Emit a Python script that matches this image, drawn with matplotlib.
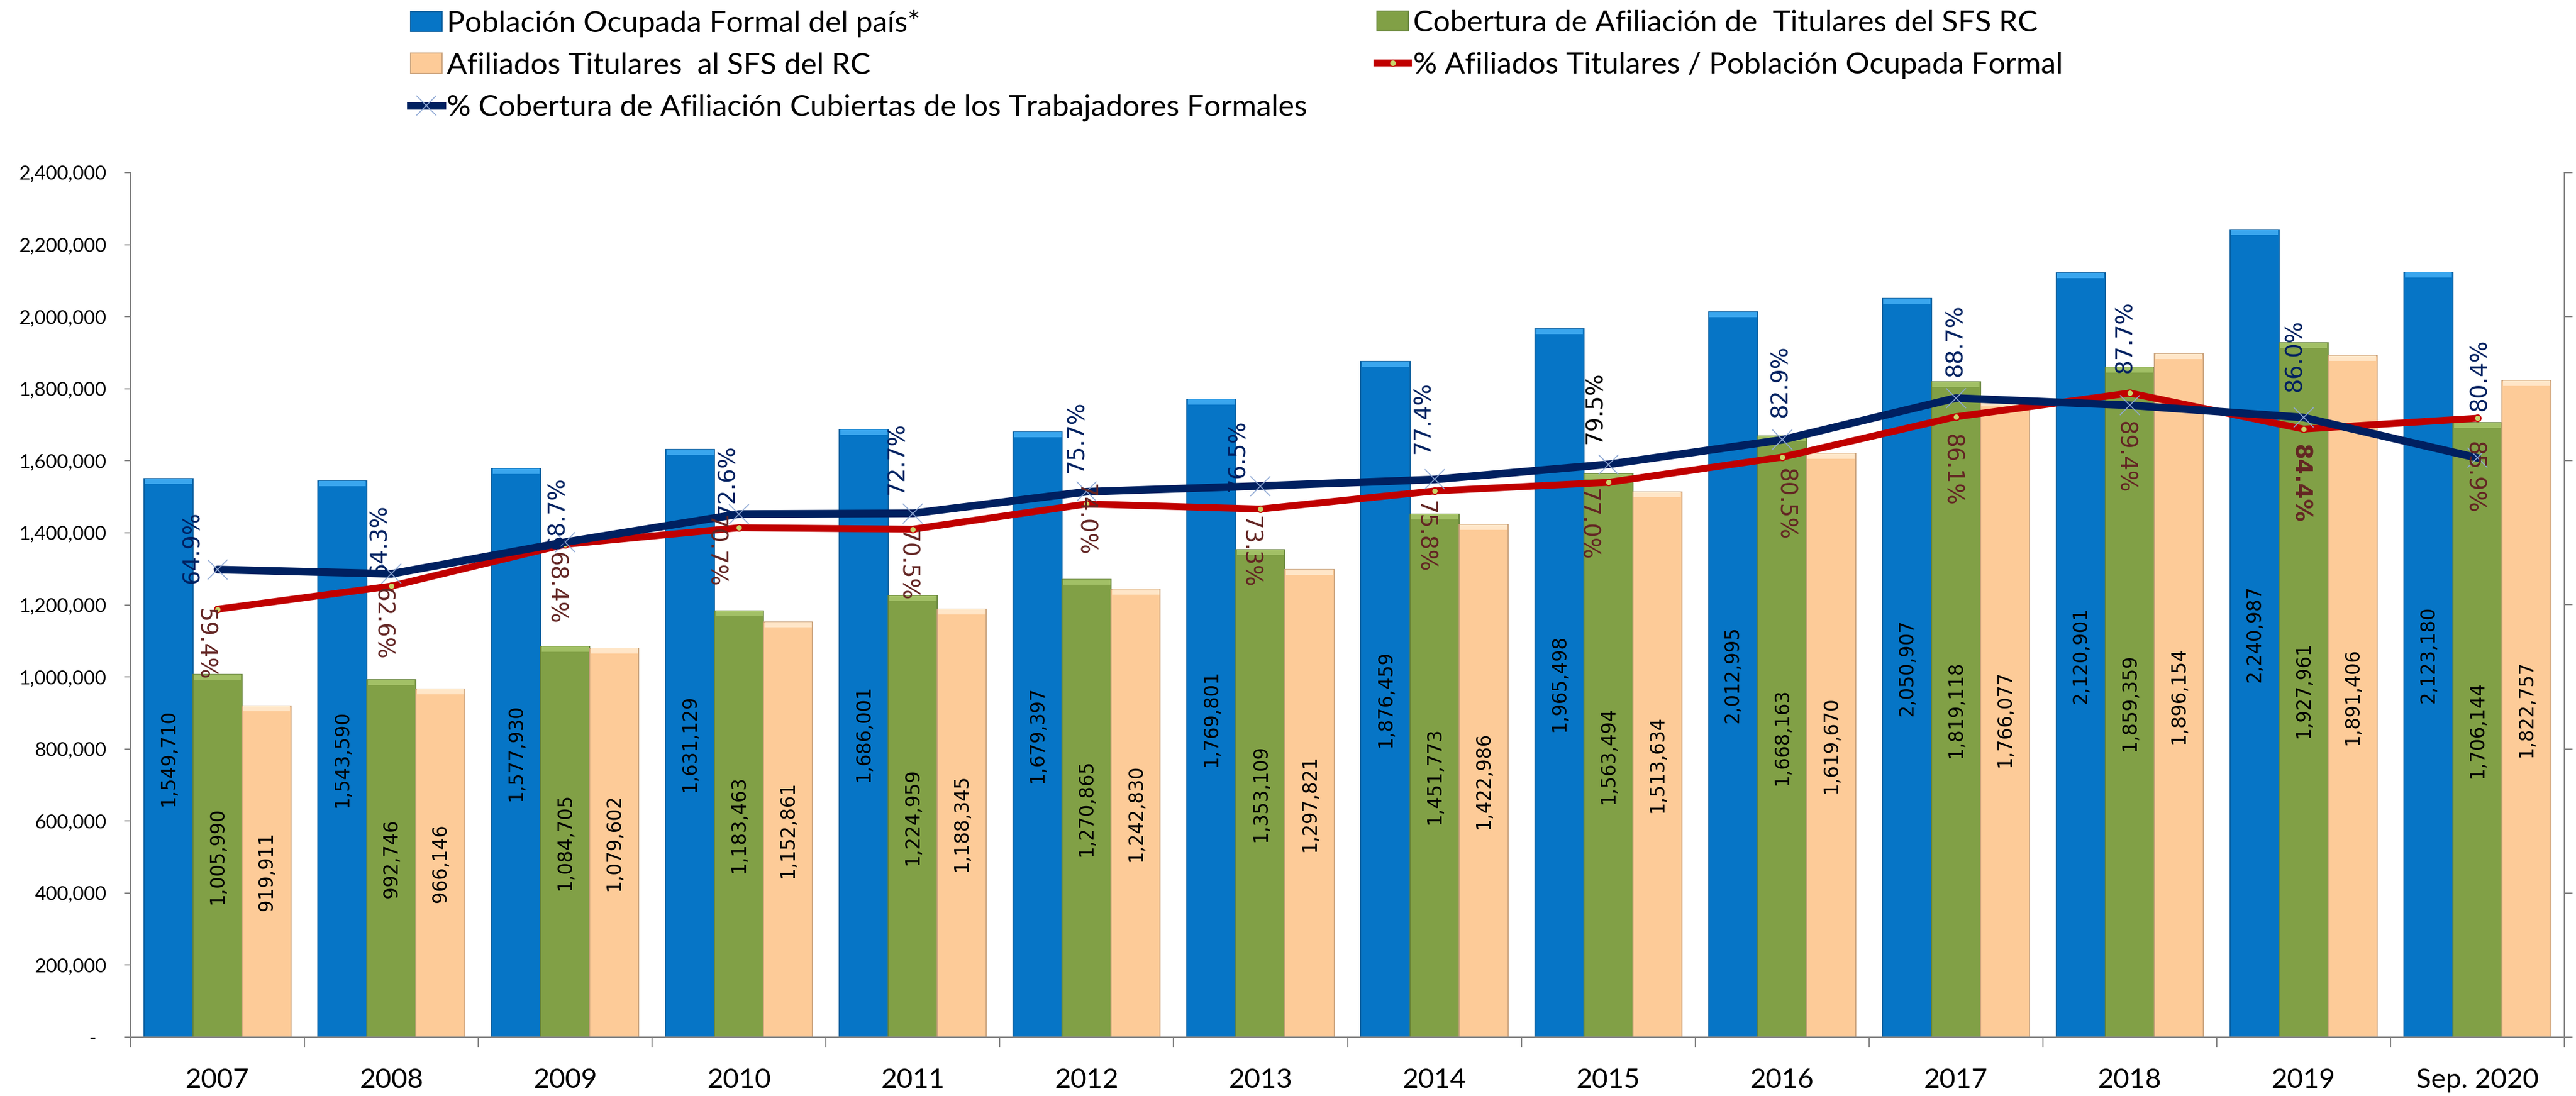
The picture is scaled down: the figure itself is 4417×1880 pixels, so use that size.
import matplotlib
matplotlib.use("Agg")
import matplotlib.pyplot as plt
from matplotlib.lines import Line2D
from matplotlib.patches import Patch
from matplotlib.ticker import FuncFormatter, MultipleLocator
import numpy as np

# ---------------- data ----------------
categories = ["2007", "2008", "2009", "2010", "2011", "2012", "2013",
              "2014", "2015", "2016", "2017", "2018", "2019", "Sep. 2020"]
poblacion = [1549710, 1543590, 1577930, 1631129, 1686001, 1679397, 1769801,
             1876459, 1965498, 2012995, 2050907, 2120901, 2240987, 2123180]
cobertura = [1005990, 992746, 1084705, 1183463, 1224959, 1270865, 1353109,
             1451773, 1563494, 1668163, 1819118, 1859359, 1927961, 1706144]
afiliados = [919911, 966146, 1079602, 1152861, 1188345, 1242830, 1297821,
             1422986, 1513634, 1619670, 1766077, 1896154, 1891406, 1822757]
pct_cobertura = [64.9, 64.3, 68.7, 72.6, 72.7, 75.7, 76.5,
                 77.4, 79.5, 82.9, 88.7, 87.7, 86.0, 80.4]
pct_afiliados = [59.4, 62.6, 68.4, 70.7, 70.5, 74.0, 73.3,
                 75.8, 77.0, 80.5, 86.1, 89.4, 84.4, 85.9]

series_names = ["Población Ocupada Formal del país*",
                "Cobertura de Afiliación de  Titulares del SFS RC",
                "Afiliados Titulares  al SFS del RC",
                "% Afiliados Titulares / Población Ocupada Formal",
                "% Cobertura de Afiliación Cubiertas de los Trabajadores Formales"]

# ---------------- layout / style ----------------
# label offsets in pixels (dx right, dy up) relative to each point
blue_offsets = [(-43, 38), (-20, 57), (-13, 50), (-20, 58), (-27, 94), (-17, 94), (-39, 52),
                (-19, 106), (-22, 97), (-3, 100), (-1, 99), (-8, 117), (-15, 106), (4, 142)]
red_offsets = [(-21, -60), (-15, -65), (-16, -75), (-41, -41), (-10, -62), (-3, -27), (-18, -74),
               (-16, -79), (-35, -72), (5, -81), (-7, -91), (-8, -110), (-6, -93), (-6, -101)]

C_BLUE, C_GREEN, C_PEACH = "#0675C6", "#81A046", "#FDCB98"
T_BLUE, T_GREEN, T_PEACH = "#3AA6EE", "#A2C066", "#FFE6C8"
E_BLUE, E_GREEN, E_PEACH = "#0B5E9E", "#66843A", "#C9A27C"
C_NAVY, C_RED = "#002060", "#C00000"
C_NAVY_LBL, C_RED_LBL = "#002060", "#632523"
AX_GREY = "#868686"
UI_FONT = ["Lato", "DejaVu Sans"]
LBL_FONT = ["DejaVu Sans"]

W, H, DPI = 4417, 1880, 100
fig = plt.figure(figsize=(W / DPI, H / DPI), dpi=DPI)
L, R, B, T = 224, 4397, 1779, 296
ax = fig.add_axes([L / W, 1 - B / H, (R - L) / W, (B - T) / H])
ax2 = ax.twinx()

YMAX = 2400000
bevel = YMAX * 9 / (B - T)   # ~9 px highlight band at bar tops

x = np.arange(len(categories))
bw = 0.282
for off, vals, fc, tc, ec in [(-bw, poblacion, C_BLUE, T_BLUE, E_BLUE),
                              (0.0, cobertura, C_GREEN, T_GREEN, E_GREEN),
                              (bw, afiliados, C_PEACH, T_PEACH, E_PEACH)]:
    vals = np.array(vals)
    ax.bar(x + off, vals, width=bw, color=fc, edgecolor=ec, linewidth=1.3, zorder=2)
    ax.bar(x + off, np.full(len(vals), bevel), bottom=vals - bevel, width=bw * 0.96,
           color=tc, linewidth=0, zorder=2.1)
    for xi, v in zip(x + off, vals):
        ax.text(xi, v / 2, f"{v:,.0f}", rotation=90, ha="center", va="center",
                fontsize=23.5, family=LBL_FONT, color="black", zorder=5)

ax.set_xlim(-0.5, len(categories) - 0.5)
ax.set_ylim(0, YMAX)
ax.yaxis.set_major_locator(MultipleLocator(200000))
ax.yaxis.set_major_formatter(FuncFormatter(lambda v, p: "-  " if v == 0 else f"{v:,.0f}"))
ax.set_xticks(x)
ax.set_xticklabels(categories)
ax.set_xticks(np.arange(-0.5, len(categories)), minor=True)
ax.tick_params(axis="x", which="major", length=0, pad=38, labelsize=34)
ax.tick_params(axis="x", which="minor", length=12, width=1.5, color=AX_GREY, direction="out")
ax.tick_params(axis="y", length=8, width=1.5, color=AX_GREY, pad=22, labelsize=24)
for lab in ax.get_xticklabels() + ax.get_yticklabels():
    lab.set_family(UI_FONT)
for s in ["top"]:
    ax.spines[s].set_visible(False)
    ax2.spines[s].set_visible(False)
for s in ["left", "bottom"]:
    ax.spines[s].set_color(AX_GREY)
    ax.spines[s].set_linewidth(1.5)
ax2.spines["right"].set_color(AX_GREY)
ax2.spines["right"].set_linewidth(1.5)
ax2.spines["left"].set_visible(False)
ax2.spines["bottom"].set_visible(False)

# secondary axis (0% - 120%), no labels
pc = np.array(pct_cobertura) / 100
pa = np.array(pct_afiliados) / 100
ax2.set_ylim(0, 1.2)
ax2.yaxis.set_major_locator(MultipleLocator(0.2))
ax2.tick_params(axis="y", length=10, width=1.5, color=AX_GREY, labelright=False)

ax2.plot(x, pa, color=C_RED, lw=8.5, solid_capstyle="round", zorder=3,
         marker="o", markersize=8, markerfacecolor="#C9D46A", markeredgecolor=C_RED,
         markeredgewidth=1.5)
ax2.plot(x, pc, color=C_NAVY, lw=9.5, solid_capstyle="round", zorder=4)
ax2.plot(x, pc, ls="none", marker="x", markersize=25, markeredgewidth=1.2,
         color="#8FA8D4", zorder=4.5)

for i in range(len(categories)):
    dx, dy = blue_offsets[i]
    col = "black" if i == 8 else C_NAVY_LBL
    ax2.annotate(f"{pct_cobertura[i]:.1f}%", (x[i], pc[i]), xytext=(dx, dy),
                 textcoords="offset pixels", rotation=90, ha="center", va="center",
                 fontsize=28, family=LBL_FONT, color=col, zorder=6)
    dx, dy = red_offsets[i]
    ax2.annotate(f"{pct_afiliados[i]:.1f}%", (x[i], pa[i]), xytext=(dx, dy),
                 textcoords="offset pixels", rotation=270, ha="center", va="center",
                 fontsize=28, family=LBL_FONT, color=C_RED_LBL, zorder=6,
                 fontweight="bold" if i == 12 else "normal")

# ---------------- legend ----------------
h_pob = Patch(facecolor=C_BLUE, edgecolor=E_BLUE, linewidth=1.3)
h_cob = Patch(facecolor=C_GREEN, edgecolor=E_GREEN, linewidth=1.3)
h_afi = Patch(facecolor=C_PEACH, edgecolor=E_PEACH, linewidth=1.3)
h_pa = Line2D([], [], color=C_RED, lw=8.5, marker="o", markersize=8,
              markerfacecolor="#C9D46A", markeredgecolor=C_RED)
h_pc = Line2D([], [], color=C_NAVY, lw=9.5, marker="x", markersize=25,
              markeredgecolor="#8FA8D4", markeredgewidth=1.2)

leg_kw = dict(frameon=False, prop={"family": UI_FONT, "size": 37},
              handlelength=1.05, handleheight=0.65, handletextpad=0.15,
              labelspacing=0.5, borderpad=0, borderaxespad=0, numpoints=1)
leg1 = fig.legend([h_pob, h_afi, h_pc], [series_names[0], series_names[2], series_names[4]],
                  loc="upper left", bbox_to_anchor=(704 / W, 1 - 17 / H), **leg_kw)
leg2 = fig.legend([h_cob, h_pa], [series_names[1], series_names[3]],
                  loc="upper left", bbox_to_anchor=(2361 / W, 1 - 17 / H), **leg_kw)

fig.savefig("out.png", dpi=DPI, facecolor="white")
